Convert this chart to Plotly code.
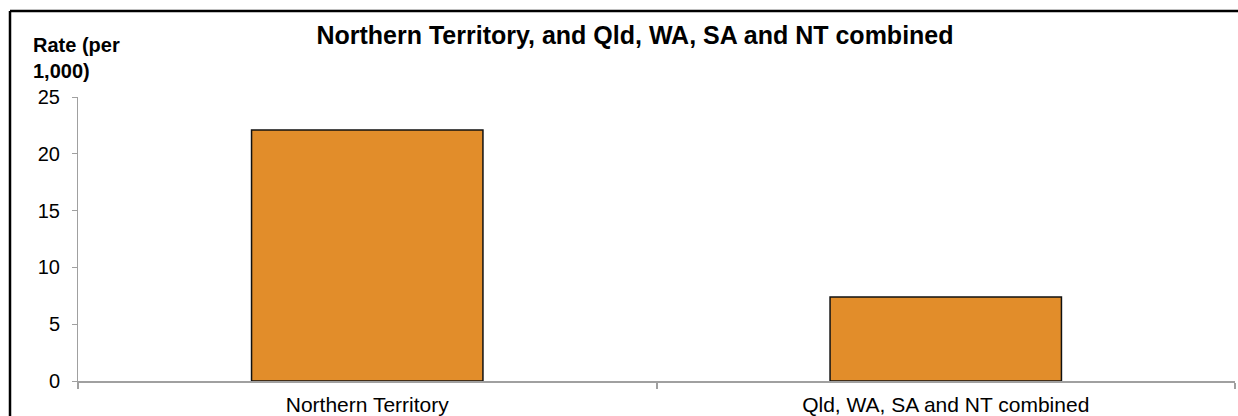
import plotly.graph_objects as go

# --- data
categories = ["Northern Territory", "Qld, WA, SA and NT combined"]
rates = [22.1, 7.4]
y_ticks = [0, 5, 10, 15, 20, 25]

W, H = 1238, 416
L, R, T, B = 78, 3, 97, 35
pw, ph = W - L - R, H - T - B

def px_x(x):
    return (x - L) / pw

def px_y(y):
    return 1 - (y - T) / ph

fig = go.Figure()
fig.add_trace(go.Bar(
    x=categories, y=rates,
    marker=dict(color="#E28D2A", line=dict(color="#111111", width=1.5)),
))

# chart frame: only the top and left edges fall inside the picture
frame = dict(color="black", width=2.5)
fig.update_layout(
    width=W, height=H,
    margin=dict(l=L, r=R, t=T, b=B),
    paper_bgcolor="white", plot_bgcolor="white",
    font=dict(family="Arial, Liberation Sans, sans-serif", size=20, color="black"),
    bargap=0.6,
    showlegend=False,
    title=dict(text="<b>Northern Territory, and Qld, WA, SA and NT combined</b>",
               x=635 / W, xanchor="center", y=1 - 35 / H, yanchor="middle",
               font=dict(size=25, color="black")),
    xaxis=dict(showline=True, linecolor="#A0A0A0", linewidth=2, automargin=False,
               ticks="outside", tickson="boundaries", ticklen=6, tickcolor="#A0A0A0",
               tickwidth=2, showgrid=False, ticklabelstandoff=4, tickfont=dict(size=21)),
    yaxis=dict(range=[0, 25], tickvals=y_ticks, showline=True, linecolor="#A0A0A0",
               linewidth=1, ticks="outside", ticklen=5, tickcolor="#A0A0A0",
               ticklabelstandoff=8, automargin=False,
               showgrid=False, zeroline=False, tickfont=dict(size=20)),
    annotations=[dict(text="<b>Rate (per<br>1,000)</b>", xref="paper", yref="paper",
                      x=px_x(31), y=px_y(32), xanchor="left", yanchor="top",
                      align="left", showarrow=False, font=dict(size=20))],
    shapes=[
        dict(type="line", xref="paper", yref="paper",
             x0=px_x(10), x1=px_x(W), y0=px_y(11), y1=px_y(11), line=frame),
        dict(type="line", xref="paper", yref="paper",
             x0=px_x(10), x1=px_x(10), y0=px_y(11), y1=px_y(H), line=frame),
    ],
)

fig.write_html("out.html", config={"displayModeBar": False},
               post_script="document.body.style.margin='0';document.body.style.overflow='hidden';")
